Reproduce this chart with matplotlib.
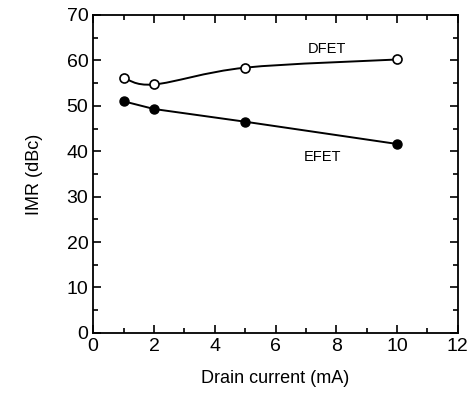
import numpy as np
import matplotlib.pyplot as plt
from matplotlib.path import Path
from matplotlib.patches import PathPatch
from matplotlib.ticker import MultipleLocator

plt.rcParams['font.family'] = ['Liberation Sans', 'DejaVu Sans']

# Drain current (mA) and IMR (dBc)
current = [1, 2, 5, 10]
imr_dfet = [56.2, 54.7, 58.4, 60.2]
imr_efet = [51.0, 49.3, 46.5, 41.6]


def smooth_path(x, y):
    # Catmull-Rom style bezier segments through the measured points
    x = np.asarray(x, float)
    y = np.asarray(y, float)
    verts = [(x[0], y[0])]
    codes = [Path.MOVETO]
    for i in range(len(x) - 1):
        i0 = max(i - 1, 0)
        i3 = min(i + 2, len(x) - 1)
        c1 = (x[i] + (x[i + 1] - x[i0]) / 6, y[i] + (y[i + 1] - y[i0]) / 6)
        c2 = (x[i + 1] - (x[i3] - x[i]) / 6, y[i + 1] - (y[i3] - y[i]) / 6)
        verts += [c1, c2, (x[i + 1], y[i + 1])]
        codes += [Path.CURVE4] * 3
    return Path(verts, codes)


fig = plt.figure(figsize=(4.73, 4.05), dpi=100)
ax = fig.add_axes([0.197, 0.178, 0.771, 0.785])

ax.add_patch(PathPatch(smooth_path(current, imr_dfet), fc='none', ec='black', lw=1.4))
ax.plot(current, imr_efet, color='black', lw=1.4)
ax.plot(current, imr_dfet, 'o', ms=6.5, mfc='white', mec='black', mew=1.2, ls='none')
ax.plot(current, imr_efet, 'o', ms=6.5, mfc='black', mec='black', ls='none')

ax.text(7.7, 61.0, 'DFET', fontsize=10.5, ha='center', va='bottom')
ax.text(7.55, 40.2, 'EFET', fontsize=10.5, ha='center', va='top')

ax.set_xlim(0, 12)
ax.set_ylim(0, 70)
ax.xaxis.set_major_locator(MultipleLocator(2))
ax.xaxis.set_minor_locator(MultipleLocator(1))
ax.yaxis.set_major_locator(MultipleLocator(10))
ax.yaxis.set_minor_locator(MultipleLocator(5))
ax.tick_params(which='both', direction='in', top=True, right=True, labelsize=14, width=1.2)
ax.tick_params(which='major', length=6)
ax.tick_params(which='minor', length=3.5)
for s in ax.spines.values():
    s.set_linewidth(1.3)

ax.set_xlabel('Drain current (mA)', fontsize=13, labelpad=11)
ax.set_ylabel('IMR (dBc)', fontsize=13, labelpad=17)

fig.savefig('out.png', dpi=100)
